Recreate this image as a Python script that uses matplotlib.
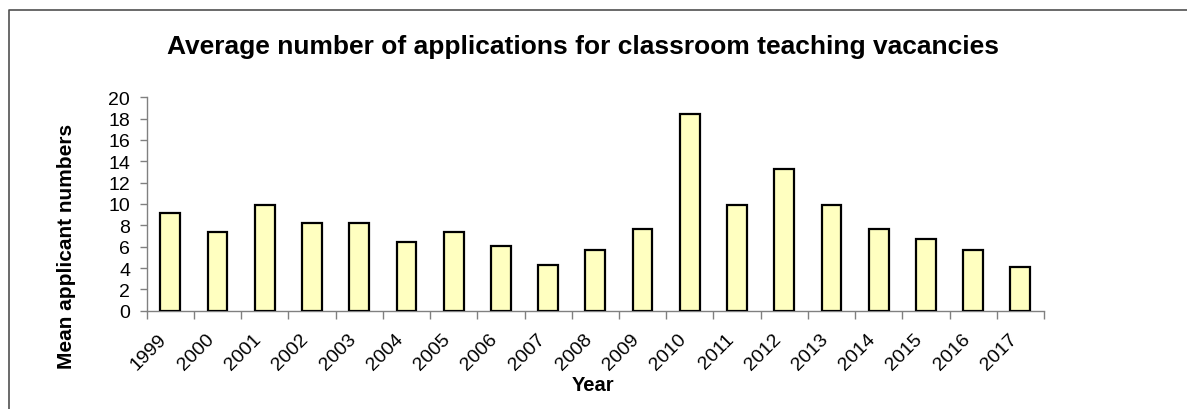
import numpy as np
import matplotlib
matplotlib.use("Agg")
import matplotlib.pyplot as plt
from matplotlib.lines import Line2D

years = ["1999", "2000", "2001", "2002", "2003", "2004", "2005", "2006", "2007", "2008",
         "2009", "2010", "2011", "2012", "2013", "2014", "2015", "2016", "2017"]
applicants = [9.2, 7.4, 9.9, 8.2, 8.2, 6.4, 7.4, 6.1, 4.3, 5.7,
              7.7, 18.4, 9.9, 13.3, 9.9, 7.7, 6.7, 5.7, 4.1]
y_ticks = [0, 2, 4, 6, 8, 10, 12, 14, 16, 18, 20]

plt.rcParams['font.family'] = ['Liberation Sans', 'DejaVu Sans']

W, H = 1187, 410
fig = plt.figure(figsize=(W/100, H/100), dpi=100)
ax = fig.add_axes([146.7/W, 1 - 311.7/H, (1044 - 146.7)/W, (311.7 - 98.3)/H])

x = np.arange(len(years))
ax.bar(x, applicants, width=0.42, color="#FFFFC0", edgecolor="black", linewidth=1.6, zorder=3)

ax.set_xlim(-0.5, len(years) - 0.5)
ax.set_ylim(0, 20)
ax.set_yticks(y_ticks)
ax.tick_params(axis="y", labelsize=14, length=5, width=1, color="#808080", pad=7)

# category labels at bar centres, tick marks between categories
ax.set_xticks(x)
ax.set_xticklabels(years, rotation=45, ha="right", fontsize=14)
ax.tick_params(axis="x", which="major", length=0, pad=14)
ax.set_xticks(np.arange(len(years) + 1) - 0.5, minor=True)
ax.tick_params(axis="x", which="minor", length=6, width=1, color="#808080")

for s in ["top", "right"]:
    ax.spines[s].set_visible(False)
for s in ["left", "bottom"]:
    ax.spines[s].set_color("#808080")
    ax.spines[s].set_linewidth(1)

fig.text(583/W, 1 - 47/H, "Average number of applications for classroom teaching vacancies",
         ha="center", va="center", fontsize=19, fontweight="bold")
fig.text(66/W, 1 - 246/H, "Mean applicant numbers", rotation=90,
         ha="center", va="center", fontsize=15, fontweight="bold")
fig.text(593/W, 1 - 386/H, "Year", ha="center", va="center", fontsize=14.5, fontweight="bold")

# outer chart frame (only top and left visible in the crop)
fig.add_artist(Line2D([9/W, 9/W, 1], [0, 1 - 11/H, 1 - 11/H], transform=fig.transFigure,
                      color="#505050", linewidth=1.2))

fig.savefig("out.png", dpi=100)
